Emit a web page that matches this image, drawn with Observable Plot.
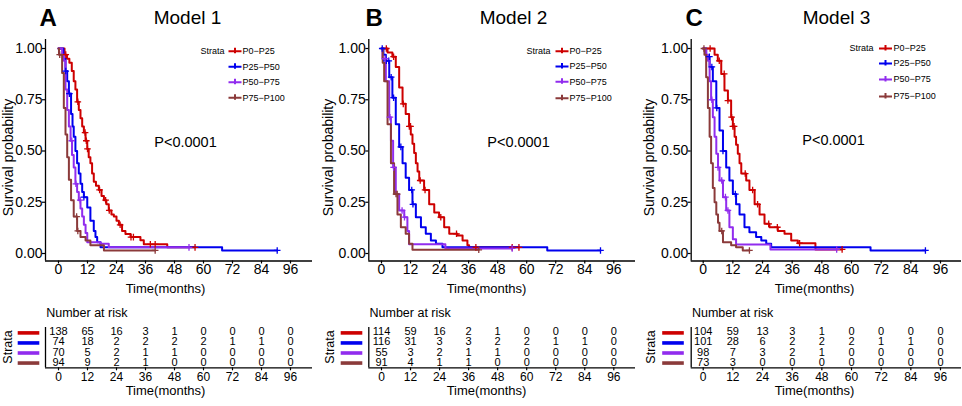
<!DOCTYPE html>
<html><head><meta charset="utf-8">
<script src="https://cdn.jsdelivr.net/npm/d3@7"></script>
<script src="https://cdn.jsdelivr.net/npm/@observablehq/plot@0.6"></script>
<style>
body{margin:0;background:#fff;}
#root{position:relative;width:962px;height:406px;overflow:hidden;background:#fff;}
#root svg{position:absolute;}
</style></head><body><div id="root"></div>
<script>
// ---------- data ----------
const timeTicks = [0, 12, 24, 36, 48, 60, 72, 84, 96];
const survTicks = [0, 0.25, 0.5, 0.75, 1];
const strata = ["P0−P25", "P25−P50", "P50−P75", "P75−P100"];
const models = ["Model 1", "Model 2", "Model 3"];
const panelLetters = ["A", "B", "C"];
const pValues = ["P<0.0001", "P<0.0001", "P<0.0001"];
const colors = ["#CD0000", "#0000EE", "#912CEE", "#8B3A3A"];

// Model 1 Kaplan-Meier steps (time, survival after that time)
const m1_p0_t = [0, 2.5, 3.5, 4.5, 5.5, 6.3, 7, 7.7, 8.4, 9.1, 9.8, 10.5, 11.2, 11.9, 12.5, 13.2, 13.9, 14.6, 15.5, 16.7, 17.8, 18.8, 19.8, 20.8, 21.9, 22.9, 24, 25, 26.3, 27.7, 29.8, 33.9, 35.3, 45, 56.5];
const m1_p0_s = [1, 0.97, 0.95, 0.93, 0.89, 0.84, 0.8, 0.74, 0.7, 0.66, 0.62, 0.59, 0.55, 0.51, 0.47, 0.44, 0.39, 0.35, 0.33, 0.31, 0.28, 0.26, 0.24, 0.21, 0.19, 0.18, 0.16, 0.14, 0.11, 0.095, 0.08, 0.065, 0.045, 0.03, 0.03];
const m1_p25_t = [0, 2, 2.9, 3.6, 4.3, 5.2, 5.8, 6.3, 7, 7.7, 8.4, 9.1, 9.8, 10.5, 11.9, 13.2, 14.6, 15.3, 16, 17.4, 67.7, 90.5];
const m1_p25_s = [1, 0.95, 0.89, 0.84, 0.78, 0.68, 0.62, 0.57, 0.5, 0.44, 0.39, 0.34, 0.3, 0.275, 0.225, 0.16, 0.11, 0.08, 0.055, 0.03, 0.015, 0.015];
const m1_p50_t = [0, 1.5, 2.2, 2.9, 3.6, 4.3, 5, 5.6, 6.3, 7, 7.7, 8.4, 9.1, 9.8, 10.5, 11.2, 11.9, 17.4, 20.8, 54];
const m1_p50_s = [1, 0.97, 0.94, 0.8, 0.7, 0.62, 0.55, 0.48, 0.42, 0.34, 0.3, 0.26, 0.22, 0.18, 0.14, 0.1, 0.055, 0.047, 0.03, 0.03];
const m1_p75_t = [0, 0.2, 1.5, 2.2, 2.9, 3.6, 4.3, 5.2, 6.3, 7.7, 9.1, 11.2, 13.2, 18.8, 40];
const m1_p75_s = [1, 0.97, 0.88, 0.71, 0.58, 0.47, 0.36, 0.26, 0.18, 0.11, 0.08, 0.063, 0.04, 0.015, 0.015];
const m1_p0_cens = [3, 8, 11, 11.5, 12, 17, 19.5, 21, 25.5, 30, 31, 38, 40, 56.5];
const m1_p25_cens = [3, 4.5, 10.5, 90.5];
const m1_p50_cens = [5.5, 7.2, 9, 54];
const m1_p75_cens = [0.5, 7.5, 8, 40];

// Model 2
const m2_p0_t = [0, 2.5, 4.5, 5.9, 7.3, 8.7, 10, 11.4, 12.1, 12.8, 13.5, 14.2, 14.9, 15.6, 17.6, 19.7, 21.8, 23.8, 25.9, 28, 31.4, 33.5, 35.5, 36.2, 56.8];
const m2_p0_s = [1, 0.98, 0.96, 0.91, 0.81, 0.73, 0.68, 0.62, 0.58, 0.535, 0.49, 0.44, 0.4, 0.356, 0.31, 0.24, 0.2, 0.177, 0.128, 0.096, 0.088, 0.063, 0.04, 0.03, 0.03];
const m2_p25_t = [0, 0.8, 1.8, 3.2, 4.5, 5.9, 7.3, 8.7, 10, 11.4, 12.8, 14.2, 16.3, 18.3, 20.4, 22.5, 25.2, 68.5, 90.5];
const m2_p25_s = [1, 0.97, 0.94, 0.86, 0.76, 0.63, 0.52, 0.44, 0.37, 0.31, 0.24, 0.177, 0.128, 0.096, 0.063, 0.047, 0.031, 0.015, 0.015];
const m2_p50_t = [0, 0.4, 1.8, 3.2, 3.9, 4.8, 5.9, 7.3, 9.4, 10.7, 11.4, 26.4, 54];
const m2_p50_s = [1, 0.95, 0.84, 0.665, 0.55, 0.42, 0.29, 0.21, 0.177, 0.11, 0.045, 0.025, 0.025];
const m2_p75_t = [0, 0.5, 1.1, 2.5, 3.9, 5.2, 6.6, 8, 10, 11.4, 12.8, 40.2];
const m2_p75_s = [1, 0.93, 0.84, 0.63, 0.44, 0.29, 0.19, 0.128, 0.096, 0.047, 0.018, 0.018];
const m2_p0_cens = [2, 5, 9, 11.5, 12, 16, 18, 24.5, 31, 39, 54, 56.8];
const m2_p25_cens = [0.3, 2, 3, 4, 5, 8, 12.5, 13, 90.5];
const m2_p50_cens = [1.5, 3.5, 5, 8.5, 9.5, 54];
const m2_p75_cens = [6, 6.5, 40.2];

// Model 3
const m3_p0_t = [0, 4.6, 5.9, 7.3, 8.6, 10, 11.3, 12, 12.7, 13.3, 14, 14.7, 15.4, 17.4, 18.7, 20.8, 22.8, 24.8, 26.8, 30.2, 32.9, 35.6, 38.3, 45.4, 56.2];
const m3_p0_s = [1, 0.97, 0.94, 0.876, 0.795, 0.746, 0.665, 0.62, 0.57, 0.53, 0.486, 0.44, 0.39, 0.356, 0.31, 0.24, 0.19, 0.145, 0.128, 0.11, 0.096, 0.063, 0.05, 0.02, 0.02];
const m3_p25_t = [0, 1.2, 2.6, 3.9, 5.3, 6.6, 8, 9.3, 10.6, 12, 13.3, 14.7, 16.7, 18.7, 21.4, 23.5, 25.5, 27.5, 67.7, 89.9];
const m3_p25_s = [1, 0.96, 0.91, 0.84, 0.71, 0.6, 0.5, 0.42, 0.356, 0.29, 0.24, 0.19, 0.128, 0.104, 0.08, 0.063, 0.047, 0.031, 0.015, 0.015];
const m3_p50_t = [0, 1.2, 1.9, 2.6, 3.2, 3.9, 4.6, 5.3, 6, 6.6, 8, 9.3, 10.6, 12, 13.3, 27.2, 54];
const m3_p50_s = [1, 0.97, 0.94, 0.84, 0.75, 0.665, 0.57, 0.486, 0.42, 0.356, 0.275, 0.21, 0.128, 0.07, 0.044, 0.02, 0.02];
const m3_p75_t = [0, 0.5, 1.2, 1.9, 2.6, 3.2, 3.9, 4.6, 5.3, 6, 6.6, 8, 11.3, 13.3, 16, 18.7];
const m3_p75_s = [1, 0.97, 0.86, 0.71, 0.57, 0.44, 0.32, 0.25, 0.19, 0.15, 0.11, 0.055, 0.04, 0.031, 0.015, 0.015];
const m3_p0_cens = [2.8, 6.5, 8.5, 10, 11.5, 12, 12.5, 17, 20, 22, 26.5, 30, 39, 56.2];
const m3_p25_cens = [2.5, 3.5, 5.5, 8, 13, 89.9];
const m3_p50_cens = [3.5, 6, 7.5, 9, 10, 54];
const m3_p75_cens = [0.3, 7.5, 18.7];

// Number at risk (at timeTicks)
const m1_risk_p0 = [138, 65, 16, 3, 1, 0, 0, 0, 0];
const m1_risk_p25 = [74, 18, 2, 2, 2, 2, 1, 1, 0];
const m1_risk_p50 = [70, 5, 2, 1, 1, 0, 0, 0, 0];
const m1_risk_p75 = [94, 9, 2, 1, 0, 0, 0, 0, 0];
const m2_risk_p0 = [114, 59, 16, 2, 1, 0, 0, 0, 0];
const m2_risk_p25 = [116, 31, 3, 3, 2, 2, 1, 1, 0];
const m2_risk_p50 = [55, 3, 2, 1, 1, 0, 0, 0, 0];
const m2_risk_p75 = [91, 4, 1, 1, 0, 0, 0, 0, 0];
const m3_risk_p0 = [104, 59, 13, 3, 1, 0, 0, 0, 0];
const m3_risk_p25 = [101, 28, 6, 2, 2, 2, 1, 1, 0];
const m3_risk_p50 = [98, 7, 3, 2, 1, 0, 0, 0, 0];
const m3_risk_p75 = [73, 3, 0, 0, 0, 0, 0, 0, 0];

// ---------- assembly ----------
const curveSets = [
  [[m1_p0_t, m1_p0_s, m1_p0_cens], [m1_p25_t, m1_p25_s, m1_p25_cens], [m1_p50_t, m1_p50_s, m1_p50_cens], [m1_p75_t, m1_p75_s, m1_p75_cens]],
  [[m2_p0_t, m2_p0_s, m2_p0_cens], [m2_p25_t, m2_p25_s, m2_p25_cens], [m2_p50_t, m2_p50_s, m2_p50_cens], [m2_p75_t, m2_p75_s, m2_p75_cens]],
  [[m3_p0_t, m3_p0_s, m3_p0_cens], [m3_p25_t, m3_p25_s, m3_p25_cens], [m3_p50_t, m3_p50_s, m3_p50_cens], [m3_p75_t, m3_p75_s, m3_p75_cens]]
];
const riskSets = [
  [m1_risk_p0, m1_risk_p25, m1_risk_p50, m1_risk_p75],
  [m2_risk_p0, m2_risk_p25, m2_risk_p50, m2_risk_p75],
  [m3_risk_p0, m3_risk_p25, m3_risk_p50, m3_risk_p75]
];

// layout: left/axisX/x0/x96/axisEnd are page pixels; the rest are panel-local pixels
const layout = [
  {left: 0, width: 320, axisX: 45, x0: 58, x96: 290, axisEnd: 312, letterX: 39, titleX: 187, pX: 185, pY: 142, survX: 8.5, timeX: 165,
   strataR: 224, keyX: 234.5, labX: 242, rows: [50.7, 66.3, 81.7, 97.3], tStrataX: 7, barX: 28},
  {left: 320, width: 320, axisX: 368.3, x0: 381, x96: 613.3, axisEnd: 635, letterX: 45, titleX: 193, pX: 198, pY: 142, survX: 8.5, timeX: 166,
   strataR: 230, keyX: 241.5, labX: 249, rows: [50.7, 66, 81.3, 97.7], tStrataX: 9, barX: 31},
  {left: 640, width: 322, axisX: 690.7, x0: 702.7, x96: 940, axisEnd: 961, letterX: 45, titleX: 196, pX: 193, pY: 140, survX: 9, timeX: 174,
   strataR: 233, keyX: 245, labX: 253, rows: [48, 63, 79, 96], tStrataX: 10, barX: 32.5}
];

const FONT = "'Liberation Sans', Arial, Helvetica, sans-serif";
const plusSym = {draw(ctx) { const a = 3.3; ctx.moveTo(-a, 0); ctx.lineTo(a, 0); ctx.moveTo(0, -a); ctx.lineTo(0, a); }};
const keySym = {draw(ctx) { ctx.moveTo(-6.5, 0); ctx.lineTo(6.5, 0); ctx.moveTo(0, -3.5); ctx.lineTo(0, 2); }};
const barSym = {draw(ctx) { ctx.rect(-10.8, -1.8, 21.6, 3.6); }};

function stepAt(T, S, t) { let v = S[0]; for (let i = 0; i < T.length; i++) if (T[i] <= t) v = S[i]; return v; }

const root = document.getElementById("root");

layout.forEach((p, k) => {
  const L = p.left, W = p.width;
  const kx = (p.x96 - p.x0) / 96;
  const xDom = [(p.axisX - p.x0) / kx, (p.axisEnd - p.x0) / kx];
  const mL = p.axisX - L, mR = L + W - p.axisEnd;

  // ---- survival plot ----
  const H = 300, yTop = 39, yBot = 260.5, y1 = 48, y0 = 253;
  const yDom = [(y0 - yBot) / (y0 - y1), (y0 - yTop) / (y0 - y1)];
  const mT = yTop, mB = H - yBot;
  const at = (x, y) => ({frameAnchor: "top-left", dx: x - mL, dy: y - mT});

  const lines = [], cens = [];
  curveSets[k].forEach(([T, S, C], i) => {
    T.forEach((t, j) => lines.push({strata: strata[i], t, s: S[j]}));
    C.forEach(t => cens.push({strata: strata[i], t, s: stepAt(T, S, t)}));
  });

  const legendMarks = [Plot.text(["Strata"], {...at(p.strataR, p.rows[0]), text: d => d, textAnchor: "end", lineAnchor: "middle", fontSize: 9})];
  strata.forEach((s, i) => {
    legendMarks.push(Plot.dot([s], {...at(p.keyX, p.rows[i]), symbol: keySym, stroke: colors[i], fill: "none", strokeWidth: 2}));
    legendMarks.push(Plot.text([s], {...at(p.labX, p.rows[i]), text: d => d, textAnchor: "start", lineAnchor: "middle", fontSize: 9}));
  });

  const km = Plot.plot({
    width: W, height: H, marginLeft: mL, marginRight: mR, marginTop: mT, marginBottom: mB,
    style: {fontFamily: FONT, fontSize: "14px", color: "black", background: "transparent", overflow: "visible"},
    x: {domain: xDom, axis: null},
    y: {domain: yDom, axis: null},
    color: {domain: strata, range: colors},
    marks: [
      Plot.axisX(timeTicks, {anchor: "bottom", tickSize: 3, tickPadding: 0.5, fontSize: 14, label: null, tickFormat: d => d, strokeWidth: 1.2}),
      Plot.axisY(survTicks, {anchor: "left", tickSize: 3, tickPadding: 0, fontSize: 14, label: null, tickFormat: d => d.toFixed(2), strokeWidth: 1.2}),
      Plot.ruleY([yDom[0]], {stroke: "black", strokeWidth: 1.3}),
      Plot.ruleX([xDom[0]], {stroke: "black", strokeWidth: 1.3}),
      Plot.line(lines, {x: "t", y: "s", z: "strata", stroke: "strata", curve: "step-after", strokeWidth: 2}),
      Plot.dot(cens, {x: "t", y: "s", stroke: "strata", symbol: plusSym, fill: "none", strokeWidth: 1.3}),
      Plot.text([panelLetters[k]], {...at(p.letterX, 25), text: d => d, textAnchor: "start", lineAnchor: "bottom", fontSize: 24, fontWeight: "bold"}),
      Plot.text([models[k]], {...at(p.titleX, 23.3), text: d => d, textAnchor: "middle", lineAnchor: "bottom", fontSize: 19}),
      Plot.text([pValues[k]], {...at(p.pX, p.pY), text: d => d, textAnchor: "middle", lineAnchor: "middle", fontSize: 14.5}),
      Plot.text(["Survival probability"], {...at(p.survX, 157), text: d => d, rotate: -90, textAnchor: "middle", lineAnchor: "middle", fontSize: 14}),
      Plot.text(["Time(months)"], {...at(p.timeX, 288), text: d => d, textAnchor: "middle", lineAnchor: "middle", fontSize: 13}),
      ...legendMarks
    ]
  });
  km.style.left = L + "px"; km.style.top = "0px";
  root.appendChild(km);

  // ---- risk table ----
  const tH = 106, tTop = 27, tBot = 67.3;
  const rowY0 = 32.4, rowStep = 10.05;
  const tyDom = [(tBot - rowY0) / rowStep, (tTop - rowY0) / rowStep];
  const tat = (x, y) => ({frameAnchor: "top-left", dx: x - mL, dy: y - tTop});
  const riskRows = [];
  riskSets[k].forEach((vals, i) => vals.forEach((n, j) => riskRows.push({strata: strata[i], row: i, t: timeTicks[j], n})));

  const tbl = Plot.plot({
    width: W, height: tH, marginLeft: mL, marginRight: mR, marginTop: tTop, marginBottom: tH - tBot,
    style: {fontFamily: FONT, fontSize: "12px", color: "black", background: "transparent", overflow: "visible"},
    x: {domain: xDom, axis: null},
    y: {domain: tyDom, axis: null},
    color: {domain: strata, range: colors},
    marks: [
      Plot.axisX(timeTicks, {anchor: "bottom", tickSize: 3, tickPadding: 2, fontSize: 12, label: null, tickFormat: d => d, strokeWidth: 1.2}),
      Plot.ruleY([tyDom[0]], {stroke: "black", strokeWidth: 1.3}),
      Plot.ruleX([xDom[0]], {stroke: "black", strokeWidth: 1.3}),
      Plot.text(riskRows, {x: "t", y: "row", text: "n", fontSize: 11, lineAnchor: "middle", dy: -1}),
      Plot.dot(strata, {y: (d, i) => i, frameAnchor: "left", dx: p.barX - mL, symbol: barSym, fill: d => d, stroke: "none"}),
      Plot.text(["Number at risk"], {...tat(mL + 0.7, 12), text: d => d, textAnchor: "start", lineAnchor: "middle", fontSize: 12.5}),
      Plot.text(["Strata"], {...tat(p.tStrataX, 46.5), text: d => d, rotate: -90, textAnchor: "middle", lineAnchor: "middle", fontSize: 12.5}),
      Plot.text(["Time(months)"], {...tat(p.timeX, 90), text: d => d, textAnchor: "middle", lineAnchor: "middle", fontSize: 13})
    ]
  });
  tbl.style.left = L + "px"; tbl.style.top = "300px";
  root.appendChild(tbl);
});
</script></body></html>
